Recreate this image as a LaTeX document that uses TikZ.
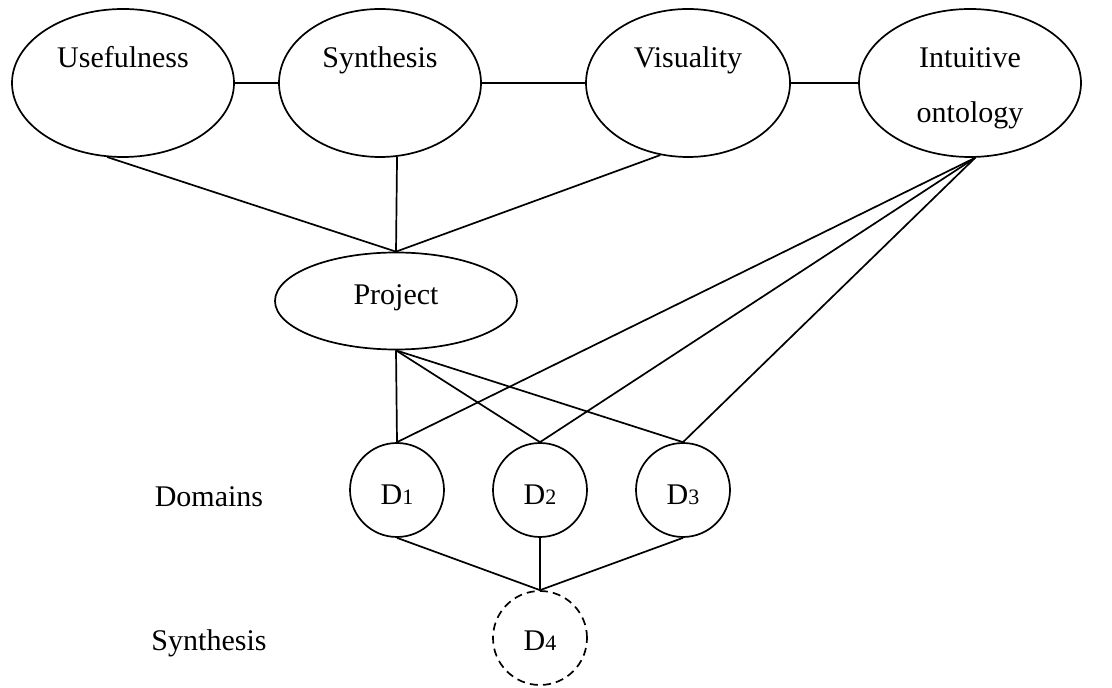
\documentclass[tikz,border=0pt]{standalone}
\usepackage{fontspec}
\setmainfont{Liberation Serif}
\usetikzlibrary{shapes.geometric}
\newcommand{\dsub}[1]{{\fontsize{11pt}{12pt}\selectfont #1}}
\begin{document}
\begin{tikzpicture}[x=0.5pt,y=-0.5pt,
  every node/.style={font=\fontsize{15pt}{18pt}\selectfont},
  oval/.style={draw,ellipse,line width=0.85pt,inner sep=0pt},
  dom/.style={draw,circle,line width=0.85pt,inner sep=0pt,minimum size=47pt},
  lbl/.style={anchor=base,inner sep=0pt},
  link/.style={line width=0.85pt}]
\useasboundingbox (0,0) rectangle (1112,688);

% top row of criteria
\node[oval,minimum width=111pt,minimum height=74pt] (u) at (123,83) {};
\node[oval,minimum width=101pt,minimum height=74pt] (s) at (380,83) {};
\node[oval,minimum width=102pt,minimum height=74pt] (v) at (688,83) {};
\node[oval,minimum width=111pt,minimum height=74pt] (io) at (970,83) {};
\node[lbl] (ut) at (123,68) {Usefulness};
\node[lbl] (st) at (380,68) {Synthesis};
\node[lbl] (vt) at (688,68) {Visuality};
\node[lbl] (iot1) at (970,68) {Intuitive};
\node[lbl] (iot2) at (970,123) {ontology};

% project
\node[oval,minimum width=121pt,minimum height=48.5pt] (p) at (396,301) {};
\node[lbl] (pt) at (396,305) {Project};

% domains
\node[dom] (d1) at (397,490) {};
\node[dom] (d2) at (540,490) {};
\node[dom] (d3) at (683,490) {};
\node[dom,dash pattern=on 4pt off 2.6pt] (d4) at (540,638) {};
\node[lbl] (d1t) at (397,505) {D\dsub{1}};
\node[lbl] (d2t) at (540,505) {D\dsub{2}};
\node[lbl] (d3t) at (683,505) {D\dsub{3}};
\node[lbl] (d4t) at (540,650) {D\dsub{4}};
\node[lbl] (domt) at (209,507) {Domains};
\node[lbl] (synt) at (209,650) {Synthesis};

% connectors
\draw[link] (u.east) -- (s.west);
\draw[link] (s.east) -- (v.west);
\draw[link] (v.east) -- (io.west);
\draw[link] (u.258) -- (p.north);
\draw[link] (s.283) -- (p.north);
\draw[link] (v.249) -- (p.north);
\draw[link] (p.south) -- (d1.north);
\draw[link] (p.south) -- (d2.north);
\draw[link] (p.south) -- (d3.north);
\draw[link] (io.274) -- (d1.north);
\draw[link] (io.274) -- (d2.north);
\draw[link] (io.274) -- (d3.north);
\coordinate (j) at (d4.north);
\draw[link] (d1.south) -- (j);
\draw[link] (d2.south) -- (j);
\draw[link] (d3.south) -- (j);
\end{tikzpicture}
\end{document}
